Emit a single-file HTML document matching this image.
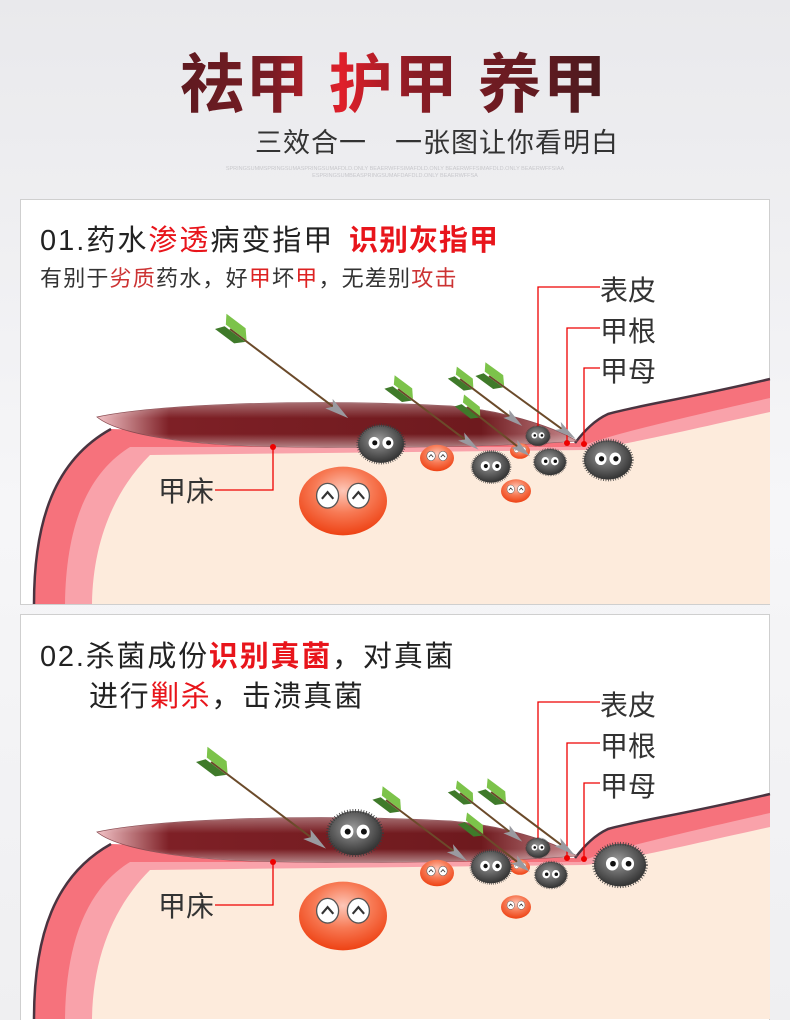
<!DOCTYPE html>
<html><head><meta charset="utf-8"><style>
html,body{margin:0;padding:0;background:#f2f2f4}
svg{display:block}
text{font-family:"Liberation Sans","Noto Sans CJK SC",sans-serif}
</style></head><body>
<svg width="790" height="1020" viewBox="0 0 790 1020" xmlns="http://www.w3.org/2000/svg">
<defs>
<linearGradient id="bg" x1="0" y1="0" x2="0" y2="1"><stop offset="0" stop-color="#e9e9ec"/><stop offset="0.5" stop-color="#f6f6f8"/><stop offset="1" stop-color="#efeff1"/></linearGradient>
<linearGradient id="tg" gradientUnits="userSpaceOnUse" x1="180" y1="0" x2="605" y2="0"><stop offset="0" stop-color="#5e1a20"/><stop offset="0.22" stop-color="#7a1c24"/><stop offset="0.38" stop-color="#e01f2a"/><stop offset="0.55" stop-color="#8a1c25"/><stop offset="1" stop-color="#4a1a1e"/></linearGradient>
<linearGradient id="nail" x1="0" y1="0" x2="1" y2="0"><stop offset="0" stop-color="#f2c2c6"/><stop offset="0.15" stop-color="#7e2026"/><stop offset="0.8" stop-color="#6e1a1e"/><stop offset="1" stop-color="#c88a8e"/></linearGradient>
<linearGradient id="nailv" x1="0" y1="0" x2="0" y2="1"><stop offset="0" stop-color="#fff" stop-opacity="0.35"/><stop offset="0.35" stop-color="#fff" stop-opacity="0"/><stop offset="0.7" stop-color="#fff" stop-opacity="0"/><stop offset="1" stop-color="#fff" stop-opacity="0.45"/></linearGradient>
<radialGradient id="gray" cx="0.45" cy="0.4" r="0.6"><stop offset="0" stop-color="#9a9a9a"/><stop offset="0.6" stop-color="#5c5c5c"/><stop offset="1" stop-color="#333"/></radialGradient>
<radialGradient id="org" cx="0.5" cy="0.35" r="0.65"><stop offset="0" stop-color="#fdc7b8"/><stop offset="0.5" stop-color="#f77a55"/><stop offset="1" stop-color="#ee4214"/></radialGradient>
<g id="skin">
<path d="M34,604 C34,520 55,460 111,429 L575,443 C585,430 595,420 608,414 C640,405 680,400 770,379 L770,604 Z" fill="#f6727c"/>
<path d="M34,604 C34,520 55,460 111,429 M575,443 C585,430 595,420 608,414 C640,405 680,400 770,379" fill="none" stroke="#4a3440" stroke-width="2.5"/>
<path d="M65,604 C66,530 85,475 130,447 L580,447 C600,438 650,425 770,398 L770,604 Z" fill="#f9a2aa"/>
<path d="M92,604 C93,540 115,490 150,455 L585,450 C620,446 680,432 770,412 L770,604 Z" fill="#fdebdc"/>
<path d="M97,417 C150,405 300,398 451,406 C500,410 550,425 577,441 C500,447 350,449 250,446 C170,443 115,432 97,417 Z" fill="url(#nail)" stroke="#8a4a50" stroke-width="0.8"/>
<path d="M97,417 C150,405 300,398 451,406 C500,410 550,425 577,441 C500,447 350,449 250,446 C170,443 115,432 97,417 Z" fill="url(#nailv)"/>
<g stroke="#e00" stroke-width="1.3" fill="none">
<path d="M600,287 H538 V436"/><path d="M600,328 H567 V443"/><path d="M600,368 H584 V444"/><path d="M215,490 H273 V447"/>
</g>
<g fill="#e00"><circle cx="538" cy="436" r="3"/><circle cx="567" cy="443" r="3"/><circle cx="584" cy="444" r="3"/><circle cx="273" cy="447" r="3"/></g>
<g font-size="28" fill="#333"><text x="600" y="300">表皮</text><text x="600" y="341">甲根</text><text x="600" y="381">甲母</text><text x="158" y="501">甲床</text></g>
</g>
<g id="gb"><ellipse cx="0" cy="0" rx="1" ry="0.82" fill="url(#gray)" stroke="#3a3a3a" stroke-width="0.14" stroke-dasharray="0.03 0.07"/>
<ellipse cx="-0.3" cy="-0.05" rx="0.24" ry="0.26" fill="#fff"/><ellipse cx="0.3" cy="-0.05" rx="0.24" ry="0.26" fill="#fff"/>
<circle cx="-0.27" cy="-0.05" r="0.11" fill="#111"/><circle cx="0.33" cy="-0.05" r="0.11" fill="#111"/></g>
<g id="ob"><ellipse cx="0" cy="0" rx="1" ry="0.78" fill="url(#org)"/>
<ellipse cx="-0.35" cy="-0.12" rx="0.25" ry="0.28" fill="#fff" stroke="#555" stroke-width="0.03"/><ellipse cx="0.35" cy="-0.12" rx="0.25" ry="0.28" fill="#fff" stroke="#555" stroke-width="0.03"/>
<path d="M-0.48,-0.05 L-0.35,-0.2 L-0.22,-0.05 M0.22,-0.05 L0.35,-0.2 L0.48,-0.05" fill="none" stroke="#333" stroke-width="0.05"/></g>
</defs>
<rect width="790" height="1020" fill="url(#bg)"/>
<text x="180" y="107" font-size="64" font-weight="bold" fill="url(#tg)" letter-spacing="1">祛甲 护甲 养甲</text>
<text x="255" y="152" font-size="27" fill="#333" letter-spacing="1">三效合一　一张图让你看明白</text>
<text x="395" y="170" font-size="5.5" fill="#c8c8cc" text-anchor="middle">SPRINGSUMMSPRINGSUMASPRINGSUMAFDLD.ONLY BEAERWFFSIMAFDLD.ONLY BEAERWFFSIMAFDLD.ONLY BEAERWFFSIAA</text>
<text x="395" y="177" font-size="5.5" fill="#c8c8cc" text-anchor="middle">ESPRINGSUMBEASPRINGSUMAFDAFDLD.ONLY BEAERWFFSA</text>

<!-- panel 1 -->
<rect x="20.5" y="199.5" width="749" height="405" fill="#fff" stroke="#cfcfcf"/>
<use href="#skin"/>
<text x="40" y="250" font-size="29" fill="#222" letter-spacing="2">01.药水<tspan fill="#e8151b">渗透</tspan>病变指甲</text>
<text x="349" y="250" font-size="29" font-weight="bold" fill="#e8151b" letter-spacing="1">识别灰指甲</text>
<text x="40" y="286" font-size="22" fill="#333" letter-spacing="1.2">有别于<tspan fill="#c33">劣质</tspan>药水，好<tspan fill="#d22">甲</tspan>坏<tspan fill="#d22">甲</tspan>，无差别<tspan fill="#c33">攻击</tspan></text>
<use href="#ob" transform="translate(343,501) scale(44)"/>
<use href="#ob" transform="translate(437,458) scale(17)"/>
<use href="#ob" transform="translate(520,451) scale(10)"/>
<use href="#ob" transform="translate(516,491) scale(15)"/>
<use href="#gb" transform="translate(381,444) scale(23)"/>
<use href="#gb" transform="translate(491,467) scale(19)"/>
<use href="#gb" transform="translate(538,436) scale(12)"/>
<use href="#gb" transform="translate(550,462) scale(16)"/>
<use href="#gb" transform="translate(608,460) scale(24)"/>

<!-- panel 2 -->
<rect x="20.5" y="614.5" width="749" height="406" fill="#fff" stroke="#cfcfcf"/>
<use href="#skin" transform="translate(0,415)"/>
<text x="40" y="666" font-size="29" fill="#222" letter-spacing="1.8">02.杀菌成份<tspan fill="#e8151b" font-weight="bold">识别真菌</tspan>，对真菌</text>
<text x="89" y="706" font-size="29" fill="#222" letter-spacing="1.6">进行<tspan fill="#e8151b">剿杀</tspan>，击溃真菌</text>
<use href="#ob" transform="translate(343,916) scale(44)"/>
<use href="#ob" transform="translate(437,873) scale(17)"/>
<use href="#ob" transform="translate(520,867) scale(10)"/>
<use href="#ob" transform="translate(516,907) scale(15)"/>
<use href="#gb" transform="translate(355,833) scale(27)"/>
<use href="#gb" transform="translate(491,867) scale(20)"/>
<use href="#gb" transform="translate(538,848) scale(12)"/>
<use href="#gb" transform="translate(551,875) scale(16)"/>
<use href="#gb" transform="translate(620,865) scale(26)"/>

<!-- arrows -->
<g id="arrows">
<g transform="translate(230,329) rotate(37)"><line x1="0" y1="0" x2="130" y2="0" stroke="#6b4a2a" stroke-width="2"/><polygon points="124,-6 148,0 124,6 129,0" fill="#9a9aa0"/><polygon points="-6,-1 20,-1 12,-10 -12,-10" fill="#7cc34a"/><polygon points="-6,1 20,1 12,9 -12,9" fill="#3f7a2a"/></g>
<g transform="translate(398,389) rotate(37)"><line x1="0" y1="0" x2="85" y2="0" stroke="#6b4a2a" stroke-width="2"/><polygon points="79,-5 101,0 79,5 84,0" fill="#9a9aa0"/><polygon points="-6,-1 18,-1 11,-9 -11,-9" fill="#7cc34a"/><polygon points="-6,1 18,1 11,8 -11,8" fill="#3f7a2a"/></g>
<g transform="translate(460,379) rotate(37)"><line x1="0" y1="0" x2="62" y2="0" stroke="#6b4a2a" stroke-width="2"/><polygon points="58,-5 78,0 58,5 62,0" fill="#9a9aa0"/><polygon points="-6,-1 16,-1 10,-8 -10,-8" fill="#7cc34a"/><polygon points="-6,1 16,1 10,7 -10,7" fill="#3f7a2a"/></g>
<g transform="translate(489,376) rotate(36)"><line x1="0" y1="0" x2="90" y2="0" stroke="#6b4a2a" stroke-width="2"/><polygon points="85,-5 107,0 85,5 90,0" fill="#9a9aa0"/><polygon points="-6,-1 18,-1 11,-9 -11,-9" fill="#7cc34a"/><polygon points="-6,1 18,1 11,8 -11,8" fill="#3f7a2a"/></g>
<g transform="translate(467,407) rotate(38)"><line x1="0" y1="0" x2="64" y2="0" stroke="#6b4a2a" stroke-width="2"/><polygon points="60,-5 80,0 60,5 64,0" fill="#9a9aa0"/><polygon points="-6,-1 16,-1 10,-8 -10,-8" fill="#7cc34a"/><polygon points="-6,1 16,1 10,7 -10,7" fill="#3f7a2a"/></g>
</g>
<g transform="translate(0,415)">
<g transform="translate(211,347) rotate(37)"><line x1="0" y1="0" x2="126" y2="0" stroke="#6b4a2a" stroke-width="2"/><polygon points="120,-6 144,0 120,6 125,0" fill="#9a9aa0"/><polygon points="-6,-1 20,-1 12,-10 -12,-10" fill="#7cc34a"/><polygon points="-6,1 20,1 12,9 -12,9" fill="#3f7a2a"/></g>
<g transform="translate(386,385) rotate(37)"><line x1="0" y1="0" x2="86" y2="0" stroke="#6b4a2a" stroke-width="2"/><polygon points="80,-5 102,0 80,5 85,0" fill="#9a9aa0"/><polygon points="-6,-1 18,-1 11,-9 -11,-9" fill="#7cc34a"/><polygon points="-6,1 18,1 11,8 -11,8" fill="#3f7a2a"/></g>
<g transform="translate(460,378) rotate(38)"><line x1="0" y1="0" x2="63" y2="0" stroke="#6b4a2a" stroke-width="2"/><polygon points="59,-5 79,0 59,5 63,0" fill="#9a9aa0"/><polygon points="-6,-1 16,-1 10,-8 -10,-8" fill="#7cc34a"/><polygon points="-6,1 16,1 10,7 -10,7" fill="#3f7a2a"/></g>
<g transform="translate(491,377) rotate(37)"><line x1="0" y1="0" x2="88" y2="0" stroke="#6b4a2a" stroke-width="2"/><polygon points="83,-5 105,0 83,5 88,0" fill="#9a9aa0"/><polygon points="-6,-1 18,-1 11,-9 -11,-9" fill="#7cc34a"/><polygon points="-6,1 18,1 11,8 -11,8" fill="#3f7a2a"/></g>
<g transform="translate(470,410) rotate(38)"><line x1="0" y1="0" x2="60" y2="0" stroke="#6b4a2a" stroke-width="2"/><polygon points="56,-5 76,0 56,5 60,0" fill="#9a9aa0"/><polygon points="-6,-1 16,-1 10,-8 -10,-8" fill="#7cc34a"/><polygon points="-6,1 16,1 10,7 -10,7" fill="#3f7a2a"/></g>
</g>
</svg>
</body></html>
